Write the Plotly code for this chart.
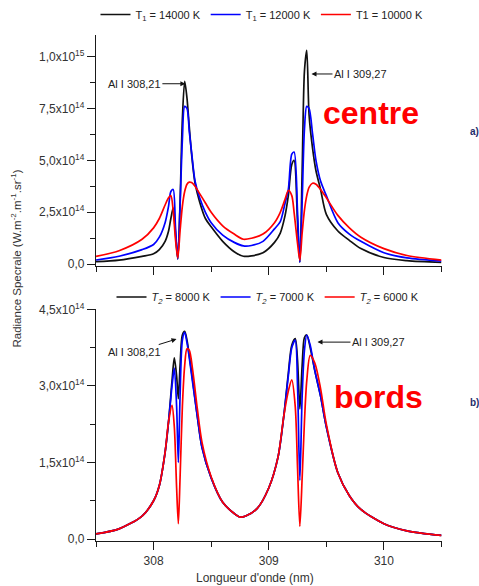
import numpy as np
import plotly.graph_objects as go

# ---------------- data (radiance in units of 1e14 W.m-2.m-1.sr-1) ----------------
wl_top = [307.5, 307.7, 307.9, 308.0, 308.05, 308.1, 308.13, 308.15, 308.17, 308.19,
          308.21, 308.23, 308.25, 308.27, 308.29, 308.31, 308.33, 308.36, 308.4, 308.45,
          308.5, 308.6, 308.7, 308.78, 308.85, 308.95, 309.05, 309.1, 309.14, 309.17,
          309.2, 309.22, 309.25, 309.27, 309.29, 309.31, 309.33, 309.35, 309.38, 309.41,
          309.45, 309.5, 309.6, 309.7, 309.8, 310.0, 310.2, 310.5]
t14000 = [0.12, 0.2, 0.38, 0.5, 0.7, 1.1, 1.6, 2.2, 2.7, 1.5,
          0.25, 3.0, 7.0, 8.8, 8.0, 6.6, 5.3, 3.9, 3.0, 2.2,
          1.8, 1.1, 0.6, 0.38, 0.4, 0.55, 1.05, 1.5, 2.3, 3.3,
          4.8, 5.0, 2.0, 0.1, 4.5, 9.3, 10.3, 7.2, 5.6, 4.5,
          3.6, 2.4, 1.6, 1.15, 0.75, 0.32, 0.17, 0.08]
t12000 = [0.2, 0.38, 0.7, 0.95, 1.3, 2.0, 2.8, 3.5, 3.6, 1.8,
          0.25, 2.8, 6.0, 7.6, 7.5, 6.4, 5.4, 4.0, 3.2, 2.5,
          2.0, 1.4, 1.05, 0.88, 0.9, 1.1, 1.7, 2.05, 2.9, 3.6,
          5.3, 5.4, 2.5, 0.1, 3.0, 6.5, 7.6, 7.5, 6.3, 5.0,
          4.0, 3.3, 2.0, 1.45, 1.1, 0.55, 0.3, 0.15]
t10000 = [0.38, 0.65, 1.2, 1.75, 2.2, 2.85, 3.2, 3.3, 2.6, 1.2,
          0.3, 1.6, 2.8, 3.5, 3.85, 3.95, 3.93, 3.75, 3.4, 2.95,
          2.5, 1.85, 1.45, 1.2, 1.25, 1.45, 2.0, 2.5, 3.1, 3.55,
          3.3, 2.5, 1.0, 0.2, 1.5, 2.6, 3.3, 3.7, 3.9, 3.85,
          3.6, 3.2, 2.35, 1.75, 1.3, 0.75, 0.42, 0.2]

wl_bot = [307.5, 307.7, 307.9, 308.0, 308.05, 308.1, 308.13, 308.16, 308.18, 308.2,
          308.215, 308.23, 308.25, 308.27, 308.29, 308.31, 308.34, 308.38, 308.42, 308.5,
          308.6, 308.7, 308.75, 308.8, 308.9, 309.0, 309.08, 309.13, 309.17, 309.2,
          309.23, 309.25, 309.27, 309.29, 309.31, 309.33, 309.36, 309.4, 309.45, 309.5,
          309.6, 309.7, 309.8, 310.0, 310.2, 310.5]
t8000 = [0.1, 0.2, 0.45, 0.75, 1.05, 1.7, 2.3, 3.1, 3.55, 3.2,
         2.75, 3.4, 4.0, 4.07, 3.9, 3.6, 3.1, 2.4, 1.8, 1.2,
         0.72, 0.5, 0.43, 0.45, 0.6, 1.0, 1.6, 2.4, 3.25, 3.8,
         3.93, 3.5, 2.55, 3.4, 3.95, 4.0, 3.75, 3.3, 2.8, 2.2,
         1.3, 0.85, 0.58, 0.3, 0.16, 0.07]
t7000 = [0.1, 0.2, 0.45, 0.75, 1.05, 1.7, 2.3, 3.0, 3.35, 2.6,
         1.5, 2.8, 3.9, 4.05, 3.85, 3.55, 3.05, 2.4, 1.8, 1.2,
         0.72, 0.5, 0.43, 0.45, 0.6, 1.0, 1.6, 2.4, 3.2, 3.75,
         3.9, 3.0, 1.15, 2.8, 3.7, 4.0, 3.8, 3.3, 2.8, 2.2,
         1.3, 0.85, 0.58, 0.3, 0.16, 0.07]
t6000 = [0.1, 0.2, 0.45, 0.75, 1.05, 1.7, 2.3, 2.62, 2.2, 1.0,
         0.3, 1.2, 2.6, 3.4, 3.73, 3.7, 3.3, 2.55, 1.9, 1.22,
         0.72, 0.5, 0.43, 0.45, 0.6, 1.0, 1.6, 2.4, 2.9, 3.12,
         2.6, 1.4, 0.25, 1.2, 2.3, 3.1, 3.6, 3.45, 2.95, 2.25,
         1.3, 0.85, 0.58, 0.3, 0.16, 0.07]

names_top = ["T<sub>1</sub> = 14000 K", "T<sub>1</sub> = 12000 K", "T1 = 10000 K"]
names_bot = ["<i>T<sub>2</sub></i> = 8000 K", "<i>T<sub>2</sub></i> = 7000 K", "<i>T<sub>2</sub></i> = 6000 K"]
colors = ["#111111", "#0000ff", "#ff0000"]

ytick_top_vals = [0, 2.5, 5.0, 7.5, 10.0]
ytick_top_text = ["0,0", "2,5x10<sup>14</sup>", "5,0x10<sup>14</sup>", "7,5x10<sup>14</sup>", "1,0x10<sup>15</sup>"]
ytick_bot_vals = [0, 1.5, 3.0, 4.5]
ytick_bot_text = ["0,0", "1,5x10<sup>14</sup>", "3,0x10<sup>14</sup>", "4,5x10<sup>14</sup>"]
xtick_vals = [308, 309, 310]
xtick_text = ["308", "309", "310"]

E14 = 1e14
W, H = 479, 586
FONT = "Liberation Sans, Arial, sans-serif"
AX = "#1a1a1a"
TXT = "#333333"

fig = go.Figure()
for vals, name, col in zip([t14000, t12000, t10000], names_top, colors):
    fig.add_trace(go.Scatter(x=wl_top, y=np.array(vals) * E14, mode="lines", name=name,
                             line=dict(color=col, width=1.7, shape="spline", smoothing=0.8),
                             xaxis="x", yaxis="y", legend="legend"))
for vals, name, col in zip([t8000, t7000, t6000], names_bot, colors):
    fig.add_trace(go.Scatter(x=wl_bot, y=np.array(vals) * E14, mode="lines", name=name,
                             line=dict(color=col, width=1.7, shape="spline", smoothing=0.8),
                             xaxis="x2", yaxis="y2", legend="legend2"))

xdom = [96 / W, 441.5 / W]
ydom_top = [1 - 265.3 / H, 1 - 34 / H]
ydom_bot = [1 - 541 / H, 1 - 309 / H]
xr = [307.5, 310.5]
yr_top = [-0.08 * E14, 11.04 * E14]
yr_bot = [-0.04 * E14, 4.5 * E14]

common = dict(showline=True, linecolor=AX, linewidth=1.3, showgrid=False, zeroline=False,
              tickcolor=AX, tickwidth=1.2, automargin=False,
              tickfont=dict(family=FONT, size=12, color=TXT))

def minor(vals, ln, ticks):
    return dict(tickvals=vals, ticklen=ln, ticks=ticks, tickcolor=AX, tickwidth=1.2, showgrid=False)

xminor = [307.5, 308.5, 309.5, 310.5]

fig.update_layout(
    xaxis=dict(domain=xdom, range=xr, anchor="y", ticks="outside", ticklen=8,
               tickvals=xtick_vals, showticklabels=False, minor=minor(xminor, 5, "outside"), **common),
    yaxis=dict(domain=ydom_top, range=yr_top, anchor="x", ticks="outside", ticklen=8,
               tickvals=[v * E14 for v in ytick_top_vals], ticktext=ytick_top_text,
               minor=minor([v * E14 for v in [1.25, 3.75, 6.25, 8.75]], 5, "outside"), **common),
    xaxis3=dict(overlaying="x", side="top", anchor="y", range=xr, ticks="inside", ticklen=5,
                tickvals=[308, 308.5, 309, 309.5, 310], showticklabels=False, **common),
    yaxis3=dict(overlaying="y", side="right", anchor="x", range=yr_top, ticks="inside", ticklen=7,
                tickvals=[v * E14 for v in ytick_top_vals], showticklabels=False,
                minor=minor([v * E14 for v in [1.25, 3.75, 6.25, 8.75]], 3, "inside"), **common),
    xaxis2=dict(domain=xdom, range=xr, anchor="y2", ticks="outside", ticklen=8,
                tickvals=xtick_vals, ticktext=xtick_text, minor=minor(xminor, 5, "outside"), **common),
    yaxis2=dict(domain=ydom_bot, range=yr_bot, anchor="x2", ticks="outside", ticklen=8,
                tickvals=[v * E14 for v in ytick_bot_vals], ticktext=ytick_bot_text,
                minor=minor([v * E14 for v in [0.75, 2.25, 3.75]], 5, "outside"), **common),
    xaxis4=dict(overlaying="x2", side="top", anchor="y2", range=xr, ticks="inside", ticklen=6,
                tickvals=[308.1, 308.7, 309.3, 309.9], showticklabels=False,
                minor=minor([307.8, 308.4, 309.0, 309.6, 310.2], 3, "inside"), **common),
    yaxis4=dict(overlaying="y2", side="right", anchor="x2", range=yr_bot, ticks="inside", ticklen=6,
                tickvals=[v * E14 for v in [0.9, 1.8, 2.7, 3.6]], showticklabels=False,
                minor=minor([v * E14 for v in [0.45, 1.35, 2.25, 3.15, 4.05]], 3, "inside"), **common),
)

leg_common = dict(orientation="h", xanchor="center", yanchor="middle", bgcolor="rgba(0,0,0,0)",
                  font=dict(family=FONT, size=11, color="#222222"), itemwidth=30, tracegroupgap=0)
fig.update_layout(
    legend=dict(x=262 / W, y=1 - 14 / H, **leg_common),
    legend2=dict(x=268 / W, y=1 - 297 / H, **leg_common),
)

ann_font = dict(family=FONT, size=11, color="#222222")
arrow = dict(showarrow=True, arrowhead=2, arrowsize=1, arrowwidth=1, arrowcolor="#111111", standoff=0,
             font=ann_font)
annotations = [
    dict(text="Al I 308,21", x=308.276, y=8.69 * E14, xref="x", yref="y", ax=-51, ay=0, **arrow),
    dict(text="Al I 309,27", x=309.371, y=9.16 * E14, xref="x", yref="y", ax=49, ay=0, **arrow),
    dict(text="Al I 308,21", x=308.199, y=3.92 * E14, xref="x2", yref="y2", ax=-42, ay=13, **arrow),
    dict(text="Al I 309,27", x=309.423, y=3.86 * E14, xref="x2", yref="y2", ax=61, ay=0, **arrow),
    dict(text="<b>centre</b>", x=371 / W, y=1 - 112 / H, xref="paper", yref="paper", showarrow=False,
         font=dict(family=FONT, size=32, color="#ff0000"), xanchor="center", yanchor="middle"),
    dict(text="<b>bords</b>", x=378 / W, y=1 - 397 / H, xref="paper", yref="paper", showarrow=False,
         font=dict(family=FONT, size=32, color="#ff0000"), xanchor="center", yanchor="middle"),
    dict(text="<b>a)</b>", x=468 / W, y=1 - 131 / H, xref="paper", yref="paper", showarrow=False,
         font=dict(family=FONT, size=10, color="#1f2d6b"), xanchor="left", yanchor="middle"),
    dict(text="<b>b)</b>", x=468 / W, y=1 - 402 / H, xref="paper", yref="paper", showarrow=False,
         font=dict(family=FONT, size=10, color="#1f2d6b"), xanchor="left", yanchor="middle"),
    dict(text="Radiance Specrale (W.m<sup>-2</sup>.m<sup>-1</sup>.sr<sup>-1</sup>)", x=16 / W, y=1 - 258 / H,
         xref="paper", yref="paper", showarrow=False, textangle=-90,
         font=dict(family=FONT, size=11.5, color=TXT), xanchor="center", yanchor="middle"),
    dict(text="Longueur d'onde (nm)", x=255 / W, y=1 - 578 / H, xref="paper", yref="paper",
         showarrow=False, font=dict(family=FONT, size=12, color=TXT), xanchor="center", yanchor="middle"),
]
fig.update_layout(annotations=annotations, width=W, height=H,
                  margin=dict(l=0, r=0, t=0, b=0, pad=0),
                  paper_bgcolor="white", plot_bgcolor="white", showlegend=True)

fig.write_html("out.html")
